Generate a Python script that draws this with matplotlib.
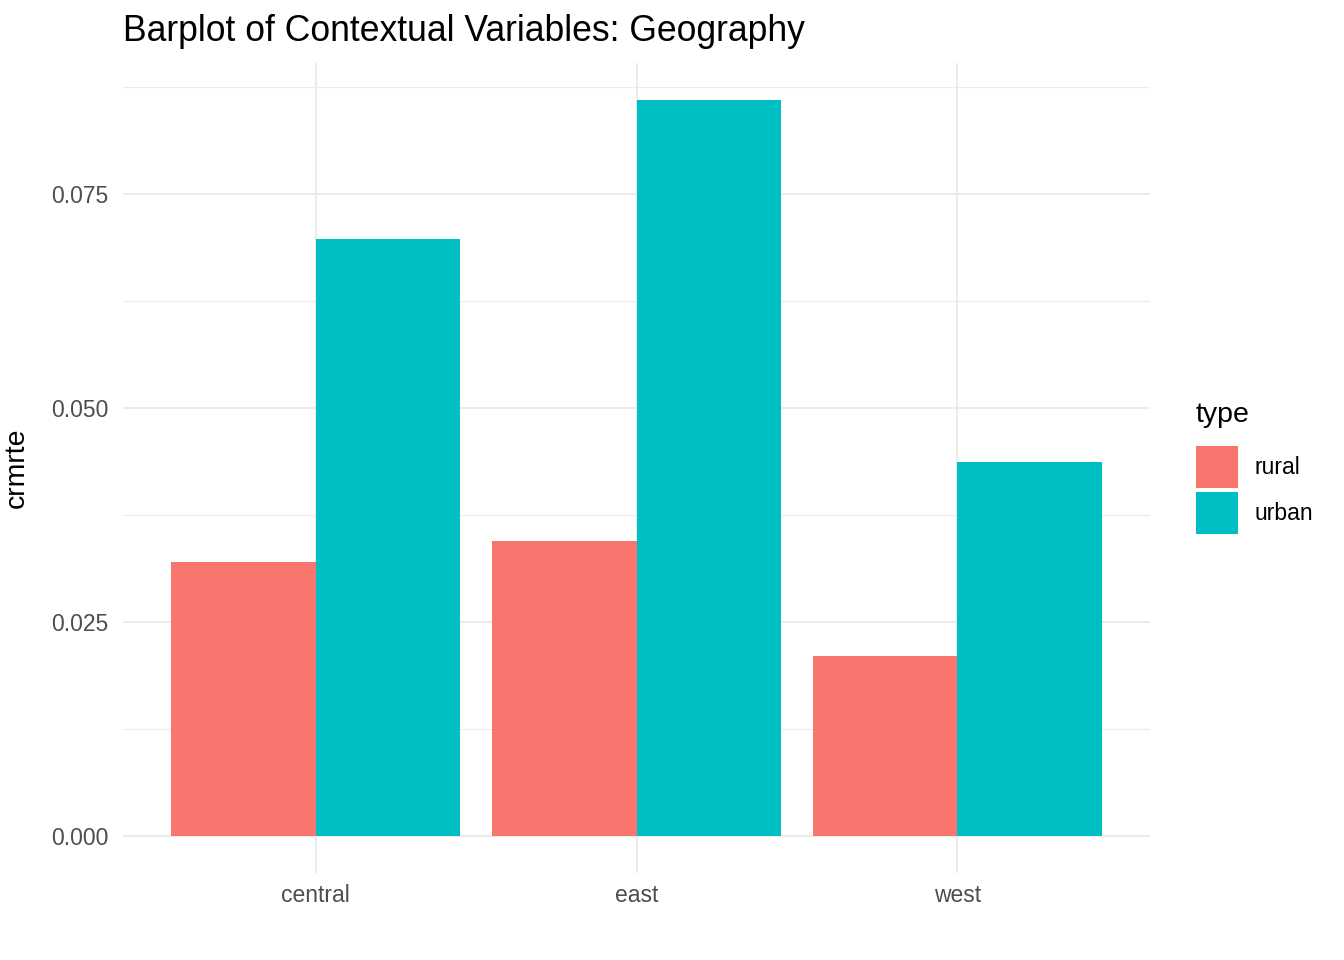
import matplotlib
matplotlib.use("Agg")
import matplotlib.pyplot as plt
import numpy as np

regions = ["central", "east", "west"]
types = ["rural", "urban"]
rural = [0.0320, 0.0345, 0.0210]
urban = [0.0697, 0.0860, 0.0437]
colors = ["#F8766D", "#00BFC4"]

plt.rcParams["font.family"] = ["Liberation Sans", "DejaVu Sans"]

fig = plt.figure(figsize=(13.44, 9.6), dpi=100)
ax = fig.add_axes([123 / 1344, 1 - 873 / 960, (1150 - 123) / 1344, (873 - 63) / 960])

x = np.arange(len(regions))
w = 0.45
b1 = ax.bar(x - w / 2, rural, width=w, color=colors[0], label=types[0], zorder=2)
b2 = ax.bar(x + w / 2, urban, width=w, color=colors[1], label=types[1], zorder=2)

top = max(max(rural), max(urban))
ax.set_ylim(-0.05 * top, 1.05 * top)
ax.set_xlim(-0.6, len(regions) - 0.4)

ax.set_xticks(x)
ax.set_xticklabels(regions)
ax.set_yticks([0, 0.025, 0.05, 0.075])
ax.set_yticklabels(["0.000", "0.025", "0.050", "0.075"])
ax.set_yticks([0.0125, 0.0375, 0.0625, 0.0875], minor=True)

ax.grid(which="major", color="#EBEBEB", linewidth=1.5, zorder=0)
ax.grid(which="minor", axis="y", color="#EBEBEB", linewidth=0.75, zorder=0)
ax.set_axisbelow(True)
for s in ax.spines.values():
    s.set_visible(False)

ax.tick_params(axis="both", which="both", length=0, labelsize=16.5, labelcolor="#4D4D4D")
ax.tick_params(axis="y", pad=10.5)
ax.tick_params(axis="x", pad=8)

ax.set_ylabel("crmrte", fontsize=20.5, color="black")
ax.yaxis.set_label_coords((30 - 123) / (1150 - 123), 0.5)

fig.text(123 / 1344, 1 - 41 / 960, "Barplot of Contextual Variables: Geography",
         fontsize=25.6, color="black", ha="left", va="baseline")

leg = ax.legend(handles=[b1, b2], title="type", loc="upper left",
                bbox_to_anchor=(1196 / 1344, 1 - 402 / 960), bbox_transform=fig.transFigure,
                frameon=False, fontsize=16.5, title_fontsize=20.5,
                handlelength=1.83, handleheight=2.44, handletextpad=0.74,
                labelspacing=0.17, borderpad=0, borderaxespad=0, alignment="left")
leg._legend_box.sep = 13

fig.savefig("out.png", dpi=100)
